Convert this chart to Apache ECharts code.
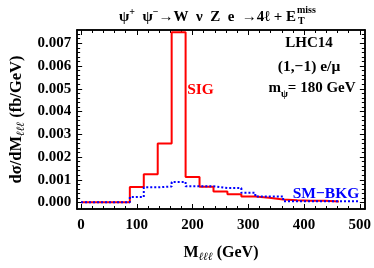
<!DOCTYPE html>
<html><head><meta charset="utf-8">
<script src="https://cdn.jsdelivr.net/npm/echarts@6/dist/echarts.min.js"></script>
<style>html,body{margin:0;padding:0;background:#fff}#c{width:374px;height:268px}</style>
</head><body><div id="c"></div>
<script>
// ---- data ----
const sigEdges = [0, 87.5, 112.5, 137.5, 162.5, 187.5, 212.5, 237.5, 262.5, 287.5, 312.5, 337.5, 362.5, 387.5, 412.5, 437.5, 462.5];
const sigValues = [0.00002, 0.00069, 0.00125, 0.0026, 0.00748, 0.00113, 0.0007, 0.00049, 0.00037, 0.00027, 0.00021, 0.00014, 0.0001, 0.00008, 0.00008, 0.00005];
const bkgEdges = [0, 87.5, 112.5, 137.5, 162.5, 187.5, 212.5, 237.5, 262.5, 287.5, 312.5, 337.5, 362.5, 387.5, 412.5, 437.5, 462.5, 487.5, 500];
const bkgValues = [0.00002, 0.00025, 0.00067, 0.00071, 0.00091, 0.00072, 0.00072, 0.00064, 0.00064, 0.00043, 0.00027, 0.00027, 0.00006, 0.00006, 0.00006, 0.00006, 0.00006, 0.00006];
const xMajorTicks = [0, 100, 200, 300, 400, 500];
const xMinorTicks = [20, 40, 60, 80, 120, 140, 160, 180, 220, 240, 260, 280, 320, 340, 360, 380, 420, 440, 460, 480];
const yMajorTicks = [0, 0.001, 0.002, 0.003, 0.004, 0.005, 0.006, 0.007];
const yMinorTicks = [0.0002, 0.0004, 0.0006, 0.0008, 0.0012, 0.0014, 0.0016, 0.0018, 0.0022, 0.0024, 0.0026, 0.0028,
  0.0032, 0.0034, 0.0036, 0.0038, 0.0042, 0.0044, 0.0046, 0.0048, 0.0052, 0.0054, 0.0056, 0.0058,
  0.0062, 0.0064, 0.0066, 0.0068, 0.0072, 0.0074];

function stepData(edges, vals) {
  const d = vals.map((v, i) => [edges[i], v]);
  d.push([edges[edges.length - 1], vals[vals.length - 1]]);
  return d;
}

const FONT = 'Liberation Serif';
const RED = '#ff0000', BLUE = '#0000ff';
const X_MIN = -7, X_MAX = 509, Y_MIN = -0.00028, Y_MAX = 0.00758;
const frameLine = { show: true, onZero: false, lineStyle: { color: '#000', width: 1.5 } };

function xAxisDef(pos, ticks, len, labels) {
  return {
    type: 'value', position: pos, min: X_MIN, max: X_MAX,
    axisLine: frameLine,
    splitLine: { show: false },
    axisTick: { show: true, inside: true, length: len, customValues: ticks, lineStyle: { color: '#000', width: 1 } },
    axisLabel: labels ? { show: true, customValues: ticks, margin: 9, fontFamily: FONT, fontWeight: 'bold', fontSize: 15, color: '#000' } : { show: false }
  };
}
function yAxisDef(pos, ticks, len, labels) {
  return {
    type: 'value', position: pos, min: Y_MIN, max: Y_MAX,
    axisLine: frameLine,
    splitLine: { show: false },
    axisTick: { show: true, inside: true, length: len, customValues: ticks, lineStyle: { color: '#000', width: 1 } },
    axisLabel: labels ? { show: true, customValues: ticks, margin: 6, formatter: v => v.toFixed(3), fontFamily: FONT, fontWeight: 'bold', fontSize: 15, color: '#000' } : { show: false }
  };
}

const xs = [xAxisDef('bottom', xMajorTicks, 5, true), xAxisDef('bottom', xMinorTicks, 3, false),
            xAxisDef('top', xMajorTicks, 5, false), xAxisDef('top', xMinorTicks, 3, false)];
xs[0].name = '{n|M}{s|ℓℓℓ}{n| (GeV)}';
xs[0].nameLocation = 'middle';
xs[0].nameGap = 34;
xs[0].nameTextStyle = { fontFamily: FONT, fontWeight: 'bold', color: '#000',
  rich: { n: { fontSize: 16, fontFamily: FONT, fontWeight: 'bold', lineHeight: 20, verticalAlign: 'middle' },
          s: { fontSize: 11, fontFamily: FONT, fontWeight: 'bold', fontStyle: 'italic', verticalAlign: 'bottom', lineHeight: 20 } } };
const ys = [yAxisDef('left', yMajorTicks, 5, true), yAxisDef('left', yMinorTicks, 3, false),
            yAxisDef('right', yMajorTicks, 5, false), yAxisDef('right', yMinorTicks, 3, false)];
ys[0].name = '{n|dσ/dM}{s|ℓℓℓ}{n| (fb/GeV)}';
ys[0].nameLocation = 'middle';
ys[0].nameGap = 49;
ys[0].nameRotate = 90;
ys[0].nameTextStyle = { fontFamily: FONT, fontWeight: 'bold', color: '#000',
  rich: { n: { fontSize: 16.5, fontFamily: FONT, fontWeight: 'bold', lineHeight: 20, verticalAlign: 'middle' },
          s: { fontSize: 11, fontFamily: FONT, fontWeight: 'bold', fontStyle: 'italic', verticalAlign: 'bottom', lineHeight: 20 } } };

const chart = echarts.init(document.getElementById('c'), null, { renderer: 'canvas' });
const tfont = { fontFamily: FONT, fontWeight: 'bold', fill: '#000' };
chart.setOption({
  animation: false,
  backgroundColor: '#fff',
  grid: { left: 72, right: 8, top: 30, bottom: 58 },
  xAxis: xs,
  yAxis: ys,
  series: [
    { type: 'line', name: 'SIG', step: 'end', data: stepData(sigEdges, sigValues), xAxisIndex: 0, yAxisIndex: 0,
      showSymbol: false, symbol: 'none', lineStyle: { color: RED, width: 2 }, z: 3 },
    { type: 'line', name: 'SM-BKG', step: 'end', data: stepData(bkgEdges, bkgValues), xAxisIndex: 0, yAxisIndex: 0,
      showSymbol: false, symbol: 'none', lineStyle: { color: BLUE, width: 2, type: [2, 2] }, z: 4 }
  ],
  graphic: [
    { type: 'text', x: 296, y: 16, style: Object.assign({ text: '{n|ψ}{p|+}{n|  ψ}{p|−}{n|→W  ν  Z  e  →4ℓ + E}', align: 'right', verticalAlign: 'middle',
        rich: { n: { fontSize: 15, fontFamily: FONT, fontWeight: 'bold', lineHeight: 18, verticalAlign: 'bottom' },
                p: { fontSize: 10, fontFamily: FONT, fontWeight: 'bold', lineHeight: 18, verticalAlign: 'top' } } }, tfont) },
    { type: 'text', x: 297, y: 10.5, style: Object.assign({ text: 'miss', fontSize: 10, align: 'left', verticalAlign: 'middle' }, tfont) },
    { type: 'text', x: 298, y: 21, style: Object.assign({ text: 'T', fontSize: 10, align: 'left', verticalAlign: 'middle' }, tfont) },
    { type: 'text', x: 309, y: 43, style: Object.assign({ text: 'LHC14', fontSize: 15, align: 'center', verticalAlign: 'middle' }, tfont) },
    { type: 'text', x: 309, y: 66.5, style: Object.assign({ text: '(1,−1) e/μ', fontSize: 15.5, align: 'center', verticalAlign: 'middle' }, tfont) },
    { type: 'text', x: 312, y: 90, style: Object.assign({ text: '{n|m}{s|ψ}{n|= 180 GeV}', align: 'center', verticalAlign: 'middle',
        rich: { n: { fontSize: 15, fontFamily: FONT, fontWeight: 'bold', lineHeight: 18, verticalAlign: 'top' },
                s: { fontSize: 10, fontFamily: FONT, fontWeight: 'bold', lineHeight: 18, verticalAlign: 'bottom' } } }, tfont) },
    { type: 'text', x: 200.5, y: 90, style: { text: 'SIG', fontSize: 15.5, fontFamily: FONT, fontWeight: 'bold', fill: RED, align: 'center', verticalAlign: 'middle' } },
    { type: 'text', x: 326, y: 194, style: { text: 'SM−BKG', fontSize: 15.5, fontFamily: FONT, fontWeight: 'bold', fill: BLUE, align: 'center', verticalAlign: 'middle' } }
  ]
});
</script>
</body></html>
